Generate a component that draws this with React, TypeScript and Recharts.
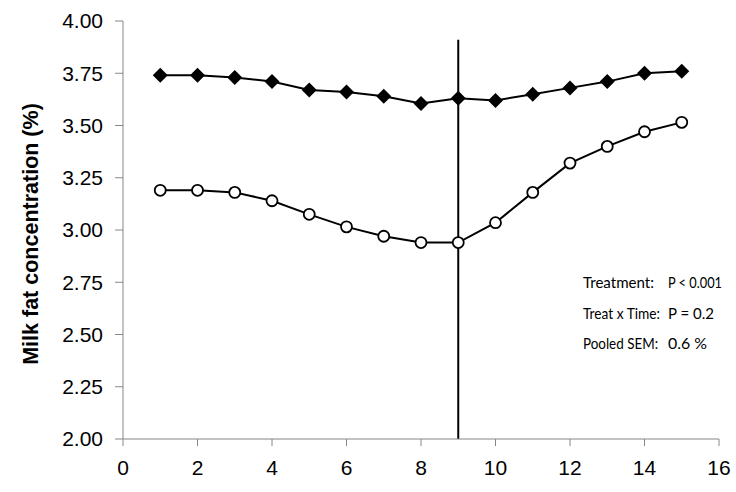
import { LineChart, Line, XAxis, YAxis, ReferenceLine } from "recharts";

// days on the x axis
const days = [1, 2, 3, 4, 5, 6, 7, 8, 9, 10, 11, 12, 13, 14, 15];
// filled diamonds
const controlFat = [3.74, 3.74, 3.73, 3.71, 3.67, 3.66, 3.64, 3.605, 3.63, 3.62, 3.65, 3.68, 3.71, 3.75, 3.76];
// open circles
const treatedFat = [3.19, 3.19, 3.18, 3.14, 3.075, 3.015, 2.97, 2.94, 2.94, 3.035, 3.18, 3.32, 3.4, 3.47, 3.515];

const xTicks = [0, 2, 4, 6, 8, 10, 12, 14, 16];
const yTicks = [2, 2.25, 2.5, 2.75, 3, 3.25, 3.5, 3.75, 4];

const statNames = ["Treatment:", "Treat x Time:", "Pooled SEM:"];
const statValues = ["P < 0.001", "P = 0.2", "0.6 %"];

const data = days.map((day, i) => ({ day, control: controlFat[i], treated: treatedFat[i] }));

const axisColor = "#868686";
const tickFont = { fill: "#000", fontSize: 21, fontFamily: "Liberation Sans, Arial, sans-serif" };
// text widths in the original (Calibri is narrow)
const nameWidths = [71, 77, 75];
const valueWidths = [54, 46, 39];

function Diamond(props: any) {
  const { cx, cy } = props;
  if (cx == null || cy == null) return null;
  const s = 7.5;
  return (
    <polygon
      points={`${cx},${cy - s} ${cx + s},${cy} ${cx},${cy + s} ${cx - s},${cy}`}
      fill="#000"
    />
  );
}

export default function App() {
  return (
    <div style={{ position: "absolute", left: 0, top: 0, background: "#fff" }}>
      <LineChart
        width={736}
        height={492}
        data={data}
        margin={{ top: 21, right: 17, bottom: 0, left: 0 }}
      >
        <XAxis
          dataKey="day"
          type="number"
          domain={[0, 16]}
          ticks={xTicks}
          interval={0}
          height={53}
          stroke={axisColor}
          tickSize={7}
          tickMargin={14}
          tick={tickFont}
        />
        <YAxis
          type="number"
          domain={[2, 4]}
          ticks={yTicks}
          interval={0}
          width={123}
          stroke={axisColor}
          tickSize={8}
          tickMargin={12}
          tick={tickFont}
          tickFormatter={(v: number) => v.toFixed(2)}
        />
        <ReferenceLine
          segment={[
            { x: 9, y: 2 },
            { x: 9, y: 3.91 },
          ]}
          stroke="#000"
          strokeWidth={2}
        />
        <Line
          dataKey="control"
          stroke="#000"
          strokeWidth={2}
          dot={<Diamond />}
          isAnimationActive={false}
        />
        <Line
          dataKey="treated"
          stroke="#000"
          strokeWidth={2}
          dot={{ r: 5.5, fill: "#fff", stroke: "#000", strokeWidth: 1.8 }}
          isAnimationActive={false}
        />
        <text
          x={31}
          y={234}
          transform="rotate(-90, 31, 234)"
          textAnchor="middle"
          dominantBaseline="central"
          fontFamily="Liberation Sans, Arial, sans-serif"
          fontWeight="bold"
          fontSize={21.5}
          fill="#000"
        >
          Milk fat concentration (%)
        </text>
        {statNames.map((name, i) => (
          <g key={name} fontFamily="Lato, Open Sans, sans-serif" fontSize={15} fill="#000">
            <text
              x={583}
              y={282 + i * 30.5}
              dominantBaseline="central"
              textLength={nameWidths[i]}
              lengthAdjust="spacingAndGlyphs"
            >
              {name}
            </text>
            <text
              x={668}
              y={282 + i * 30.5}
              dominantBaseline="central"
              textLength={valueWidths[i]}
              lengthAdjust="spacingAndGlyphs"
            >
              {statValues[i]}
            </text>
          </g>
        ))}
      </LineChart>
    </div>
  );
}
